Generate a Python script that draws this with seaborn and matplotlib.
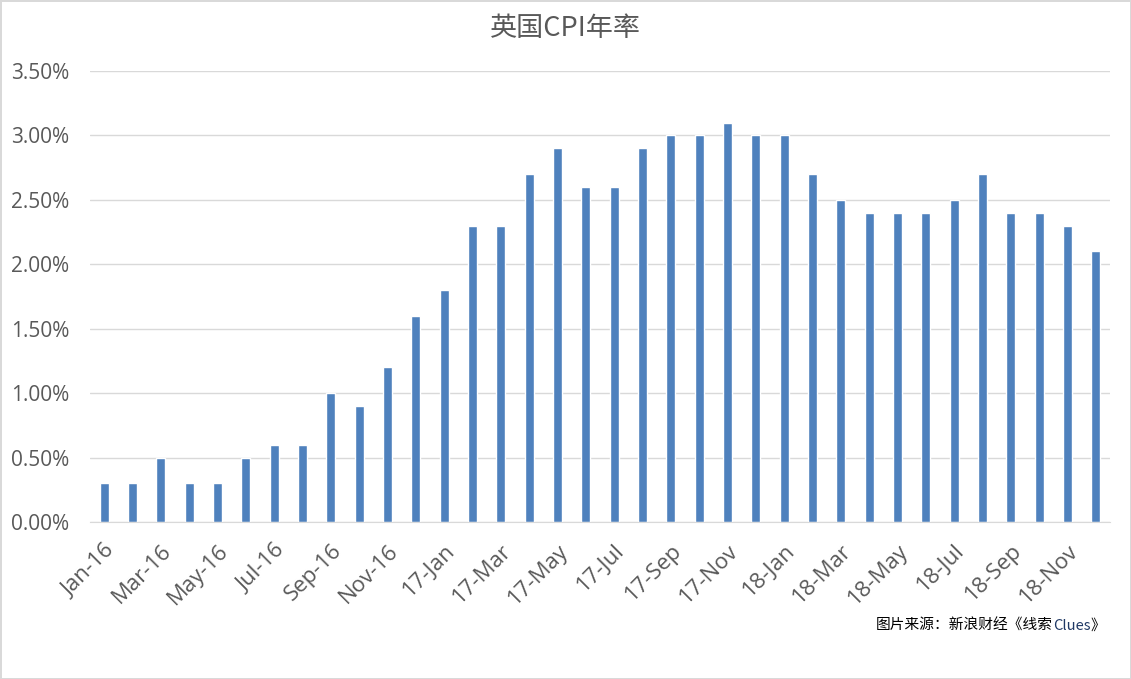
import pandas as pd
import matplotlib
matplotlib.use("Agg")
import matplotlib.pyplot as plt
import seaborn as sns

# UK CPI yearly rate, Jan 2016 - Dec 2018
months = ['Jan-16', 'Feb-16', 'Mar-16', 'Apr-16', 'May-16', 'Jun-16',
          'Jul-16', 'Aug-16', 'Sep-16', 'Oct-16', 'Nov-16', 'Dec-16',
          '17-Jan', '17-Feb', '17-Mar', '17-Apr', '17-May', '17-Jun',
          '17-Jul', '17-Aug', '17-Sep', '17-Oct', '17-Nov', '17-Dec',
          '18-Jan', '18-Feb', '18-Mar', '18-Apr', '18-May', '18-Jun',
          '18-Jul', '18-Aug', '18-Sep', '18-Oct', '18-Nov', '18-Dec']
cpi = [0.3, 0.3, 0.5, 0.3, 0.3, 0.5, 0.6, 0.6, 1.0, 0.9, 1.2, 1.6,
       1.8, 2.3, 2.3, 2.7, 2.9, 2.6, 2.6, 2.9, 3.0, 3.0, 3.1, 3.0,
       3.0, 2.7, 2.5, 2.4, 2.4, 2.4, 2.5, 2.7, 2.4, 2.4, 2.3, 2.1]
yticks = [0.0, 0.5, 1.0, 1.5, 2.0, 2.5, 3.0, 3.5]

df = pd.DataFrame({'month': months, 'cpi': cpi})

sns.set_style('white')
plt.rcParams['font.family'] = ['Open Sans', 'Noto Sans CJK SC', 'DejaVu Sans']

fig = plt.figure(figsize=(11.31, 6.79), dpi=100)
fig.patch.set_edgecolor('#d9d9d9')
fig.patch.set_linewidth(2)
ax = fig.add_axes([0.0796, 0.2312, 0.9018, 0.6642])

sns.barplot(data=df, x='month', y='cpi', color='#4f81bd', saturation=1,
            width=0.32, ax=ax)

ax.set_xlim(-0.5, len(months) - 0.5)
ax.set_ylim(0, 3.5)
ax.set_yticks(yticks)
ax.set_yticklabels([f'{v:.2f}%' for v in yticks], fontsize=15, color='#595959')
ax.yaxis.grid(True, color='#d9d9d9', linewidth=1)
ax.set_axisbelow(True)

ax.set_xticks(range(0, len(months), 2))
ax.set_xticklabels(months[::2], rotation=45, ha='right', rotation_mode='anchor',
                   fontsize=16, color='#595959')
ax.tick_params(axis='y', length=0, pad=15)
ax.tick_params(axis='x', length=0, pad=13)
ax.set_xlabel('')
ax.set_ylabel('')
for side in ['top', 'right', 'left']:
    ax.spines[side].set_visible(False)
ax.spines['bottom'].set_color('#d9d9d9')

fig.text(0.5, 0.958, '英国CPI年率', ha='center', va='center', fontsize=19.5,
         color='#595959', family=['Noto Sans CJK SC', 'DejaVu Sans'])

t1 = fig.text(0.7745, 0.0725, '图片来源：新浪财经《线索', ha='left', va='baseline',
              fontsize=10.6, color='black', family=['Noto Sans CJK SC', 'DejaVu Sans'])
t2 = ax.annotate('Clues', xy=(1, 0), xycoords=t1, va='bottom', ha='left',
                 fontsize=10.6, color='#1f3864', family=['Noto Sans CJK SC', 'DejaVu Sans'],
                 annotation_clip=False)
ax.annotate('》', xy=(1, 0), xycoords=t2, va='bottom', ha='left',
            fontsize=10.6, color='black', family=['Noto Sans CJK SC', 'DejaVu Sans'],
            annotation_clip=False)

fig.savefig('out.png', dpi=100)
